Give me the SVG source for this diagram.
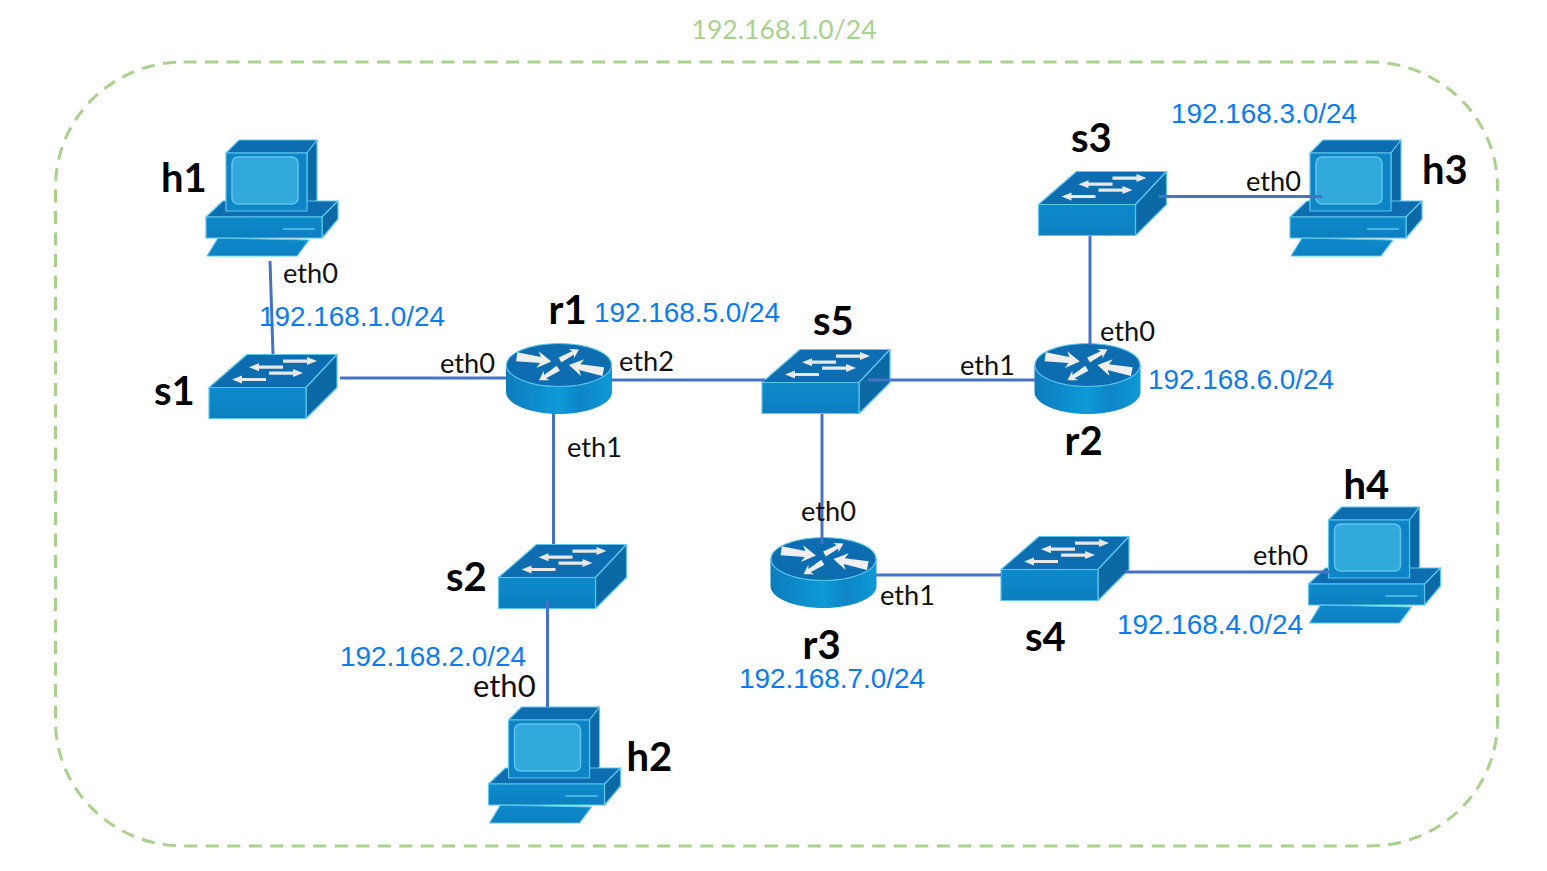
<svg xmlns="http://www.w3.org/2000/svg" width="1547" height="871" viewBox="0 0 1547 871">
<style>
.e{stroke:#5ec6ec;stroke-width:1.2;stroke-linejoin:round}
.top{fill:#0a6db0}.side{fill:#0767a6}.front{fill:url(#fg)}
.n{filter:url(#soft)}
.c{stroke:#4472c4;stroke-width:3;fill:none}
.nm{font-family:Lato,"Liberation Sans",sans-serif;font-weight:700;font-size:40px;fill:#000}
.if{font-family:Lato,"Liberation Sans",sans-serif;font-size:27.2px;fill:#111}
.ip{font-family:"Liberation Sans",Arial,sans-serif;font-size:27.9px;fill:#0a7cf0}
.zone{font-family:Lato,"Liberation Sans",sans-serif;font-size:26.6px;fill:#a9d18e}
</style>
<defs>
<filter id="soft" x="-5%" y="-5%" width="110%" height="110%"><feGaussianBlur stdDeviation="0.55"/></filter>
<linearGradient id="fg" x1="0" y1="0" x2="0" y2="1"><stop offset="0" stop-color="#0a8acb"/><stop offset="1" stop-color="#0a7fc0"/></linearGradient>
<linearGradient id="rg" x1="0" y1="0" x2="1" y2="0"><stop offset="0" stop-color="#0a7cbc"/><stop offset=".5" stop-color="#0f9ad8"/><stop offset=".7" stop-color="#0a85c6"/><stop offset="1" stop-color="#0f9ad6"/></linearGradient>
<g id="host">
<polygon class="e top" points="20,13 33,0 111,0 101,13"/>
<polygon class="e side" points="101,13 111,0 111,60 101,71"/>
<polygon class="e top" points="0,77 17,61 132,61 116,77"/>
<polygon class="e side" points="116,77 132,61 132,79 116,98"/>
<rect class="e front" x="0" y="77" width="116" height="21"/>
<rect class="e" x="20" y="13" width="81" height="58" fill="#0a84c6"/>
<rect x="26" y="17" width="66" height="47" rx="6" fill="#33a9dc" stroke="#62c3ea" stroke-width="1.5"/>
<polygon class="e front" points="1,116 12,98 103,100 91,116"/>
<path d="M77 89H109" stroke="#5ec6ec" stroke-width="1.5"/>
</g>
<path id="sa" d="M0 -1.6L24 -1.6L24 -4L34 0L24 4L24 1.6L0 1.6Z" fill="#e8e8e8"/>
<path id="ra" d="M0 -4.5L24 -3L21 -8.500L35 0L21 8.500L24 3L0 4.500Z" fill="#efefef"/>
<g id="switch">
<polygon class="e top" points="0,33 38,0 128,0 97,33"/>
<polygon class="e side" points="97,33 128,0 128,33 97,64"/>
<rect class="e front" x="0" y="33" width="97" height="31"/>
<use href="#sa" transform="translate(74 6.6)"/>
<use href="#sa" transform="translate(74 12.7) rotate(180)"/>
<use href="#sa" transform="translate(60 18.6)"/>
<use href="#sa" transform="translate(57 25) rotate(180)"/>
</g>
<g id="router">
<path d="M0 22V49C0 61 24 71 53 71S106 61 106 49V22Z" fill="url(#rg)"/>
<ellipse cx="53" cy="22" rx="52.5" ry="21.5" fill="#0a6db0" stroke="#5ec6ec" stroke-width="1.2"/>
<use href="#ra" transform="translate(10.7 13.7) rotate(8)"/>
<use href="#ra" transform="translate(54 17) rotate(-29) scale(.62)"/>
<use href="#ra" transform="translate(97.3 28.7) rotate(191)"/>
<use href="#ra" transform="translate(52.3 25.3) rotate(148) scale(.65)"/>
</g>
</defs>
<rect width="1547" height="871" fill="#fff"/>
<rect id="zone" x="55.500" y="62" width="1442" height="784" rx="128" ry="125" fill="none" stroke="#a9d18e" stroke-width="3" stroke-dasharray="13 8.500"/>
<g id="h1" class="n"><use href="#host" x="206" y="140"/></g>
<g id="h2" class="n"><use href="#host" x="488.500" y="707"/></g>
<g id="h3" class="n"><use href="#host" x="1290" y="140"/></g>
<g id="h4" class="n"><use href="#host" x="1308.500" y="507"/></g>
<g id="s1" class="n"><use href="#switch" x="209" y="354.500"/></g>
<g id="s2" class="n"><use href="#switch" x="498.500" y="544.500"/></g>
<g id="s3" class="n"><use href="#switch" x="1038.500" y="171.500"/></g>
<g id="s4" class="n"><use href="#switch" x="1001" y="536.500"/></g>
<g id="s5" class="n"><use href="#switch" x="762" y="349.500"/></g>
<g id="r1" class="n"><use href="#router" x="506" y="343"/></g>
<g id="r2" class="n"><use href="#router" x="1034.500" y="343"/></g>
<g id="r3" class="n"><use href="#router" x="770.500" y="537"/></g>
<g id="connectors">
<path class="c" d="M270 261L273 354"/>
<path class="c" d="M340 378H506"/>
<path class="c" d="M611 380H765"/>
<path class="c" d="M553.500 413V544"/>
<path class="c" d="M547.500 601V707"/>
<path class="c" d="M868 380H1035"/>
<path class="c" d="M822 414V544"/>
<path class="c" d="M1090 236V345"/>
<path class="c" d="M1158 196.500H1322"/>
<path class="c" d="M876 575H1001"/>
<path class="c" d="M1125 572H1330"/>
</g>
<g id="labels">
<text class="zone" x="691.500" y="38.500">192.168.1.0/24</text>
<text class="nm" x="161" y="192">h1</text>
<text class="nm" x="154" y="405">s1</text>
<text class="nm" x="548.500" y="324">r1</text>
<text class="nm" x="813" y="335">s5</text>
<text class="nm" x="446" y="590.500">s2</text>
<text class="nm" x="1071" y="152">s3</text>
<text class="nm" x="1064.500" y="455">r2</text>
<text class="nm" x="1422" y="184">h3</text>
<text class="nm" x="1343.500" y="499">h4</text>
<text class="nm" x="626.500" y="770.500">h2</text>
<text class="nm" x="802.500" y="658.500">r3</text>
<text class="nm" x="1025" y="651">s4</text>
<text class="if" x="283" y="283">eth0</text>
<text class="if" x="440" y="373">eth0</text>
<text class="if" x="619" y="371">eth2</text>
<text class="if" x="567" y="457">eth1</text>
<text class="if" x="960" y="375">eth1</text>
<text class="if" x="1100" y="341">eth0</text>
<text class="if" x="1246" y="191">eth0</text>
<text class="if" x="801" y="521">eth0</text>
<text class="if" x="880" y="605">eth1</text>
<text class="if" x="1253" y="565">eth0</text>
<text class="if" x="473" y="697" style="font-size:31px">eth0</text>
<text class="ip" x="259" y="326">192.168.1.0/24</text>
<text class="ip" x="594" y="322">192.168.5.0/24</text>
<text class="ip" x="1148" y="389">192.168.6.0/24</text>
<text class="ip" x="1171" y="123">192.168.3.0/24</text>
<text class="ip" x="340" y="666">192.168.2.0/24</text>
<text class="ip" x="1117" y="634">192.168.4.0/24</text>
<text class="ip" x="739" y="688">192.168.7.0/24</text>
</g>
</svg>
